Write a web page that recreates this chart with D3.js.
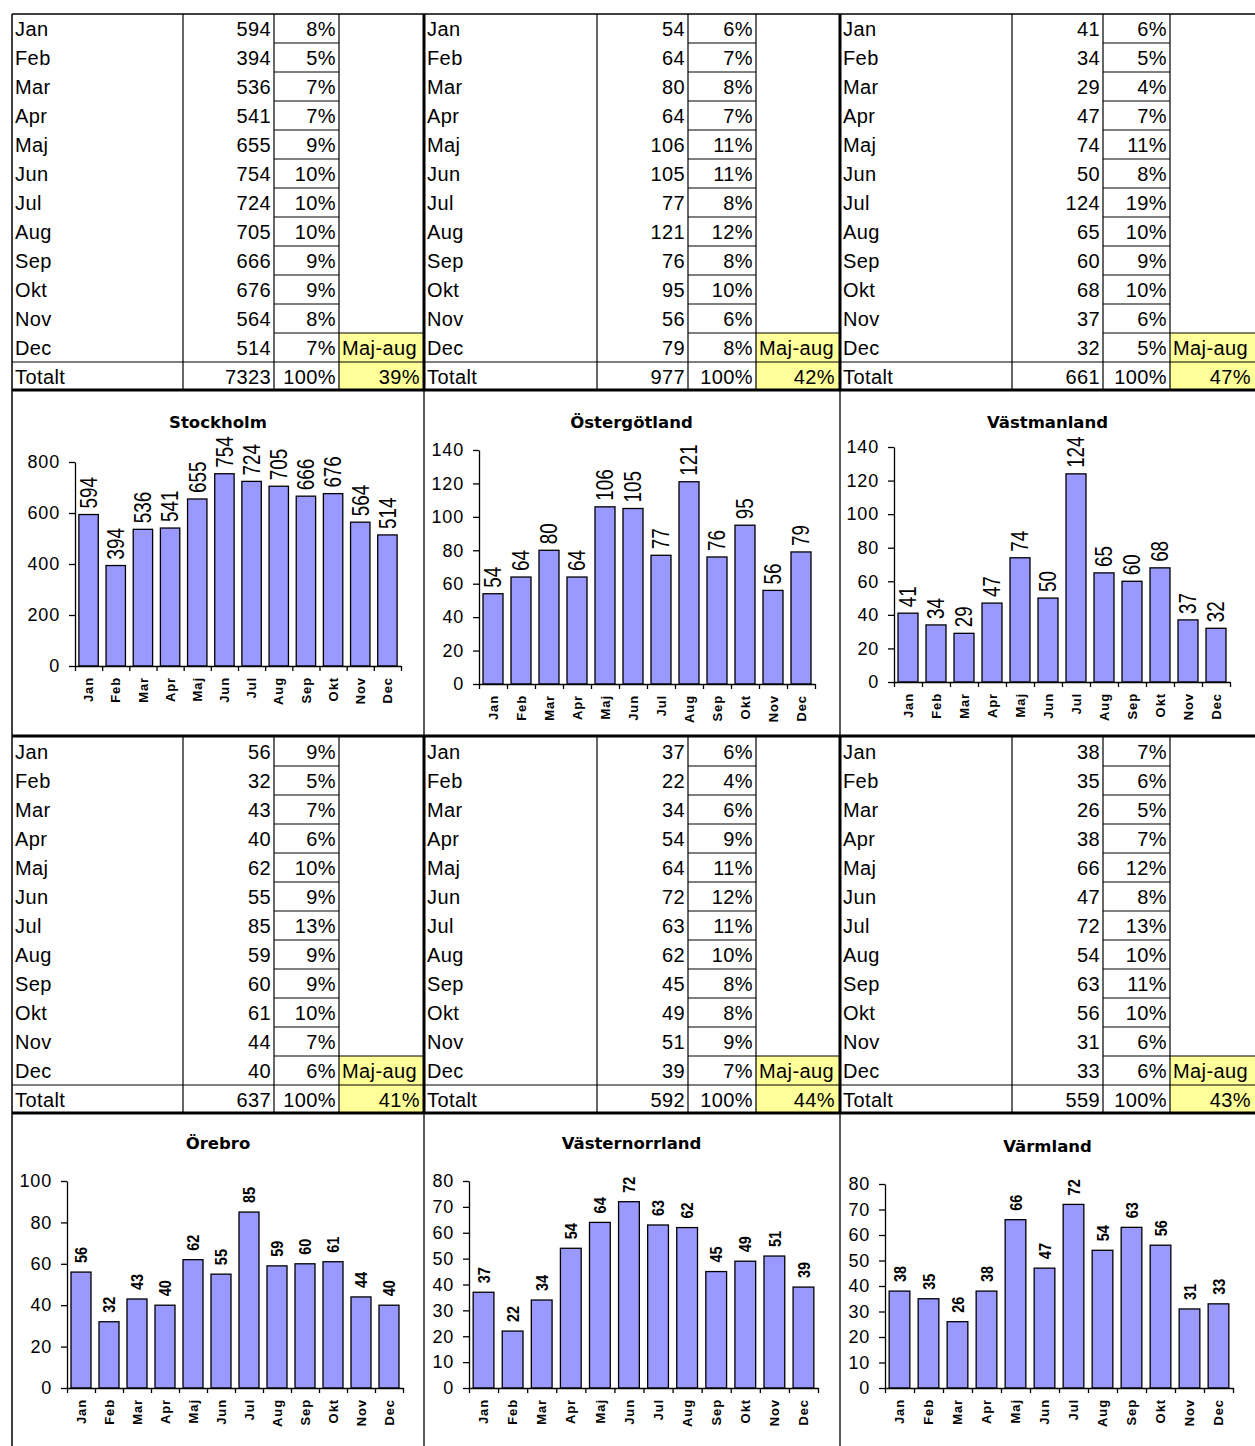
<!DOCTYPE html>
<html>
<head>
<meta charset="utf-8">
<script src="https://cdn.jsdelivr.net/npm/d3@7"></script>
<style>
  body { margin: 0; background: #fff; }
  svg { display: block; }
</style>
</head>
<body>
<script>
// ---- Data -------------------------------------------------------------
const months = ["Jan", "Feb", "Mar", "Apr", "Maj", "Jun", "Jul", "Aug", "Sep", "Okt", "Nov", "Dec"];
const regions = ["Stockholm", "Östergötland", "Västmanland", "Örebro", "Västernorrland", "Värmland"];

const stockholmValues      = [594, 394, 536, 541, 655, 754, 724, 705, 666, 676, 564, 514];
const ostergotlandValues   = [54, 64, 80, 64, 106, 105, 77, 121, 76, 95, 56, 79];
const vastmanlandValues    = [41, 34, 29, 47, 74, 50, 124, 65, 60, 68, 37, 32];
const orebroValues         = [56, 32, 43, 40, 62, 55, 85, 59, 60, 61, 44, 40];
const vasternorrlandValues = [37, 22, 34, 54, 64, 72, 63, 62, 45, 49, 51, 39];
const varmlandValues       = [38, 35, 26, 38, 66, 47, 72, 54, 63, 56, 31, 33];

const stockholmShares      = ["8%", "5%", "7%", "7%", "9%", "10%", "10%", "10%", "9%", "9%", "8%", "7%"];
const ostergotlandShares   = ["6%", "7%", "8%", "7%", "11%", "11%", "8%", "12%", "8%", "10%", "6%", "8%"];
const vastmanlandShares    = ["6%", "5%", "4%", "7%", "11%", "8%", "19%", "10%", "9%", "10%", "6%", "5%"];
const orebroShares         = ["9%", "5%", "7%", "6%", "10%", "9%", "13%", "9%", "9%", "10%", "7%", "6%"];
const vasternorrlandShares = ["6%", "4%", "6%", "9%", "11%", "12%", "11%", "10%", "8%", "8%", "9%", "7%"];
const varmlandShares       = ["7%", "6%", "5%", "7%", "12%", "8%", "13%", "10%", "11%", "10%", "6%", "6%"];

const totals = [7323, 977, 661, 637, 592, 559];
const summerShares = ["39%", "42%", "47%", "41%", "44%", "43%"];

const stockholmTicks      = [0, 200, 400, 600, 800];
const ostergotlandTicks   = [0, 20, 40, 60, 80, 100, 120, 140];
const vastmanlandTicks    = [0, 20, 40, 60, 80, 100, 120, 140];
const orebroTicks         = [0, 20, 40, 60, 80, 100];
const vasternorrlandTicks = [0, 10, 20, 30, 40, 50, 60, 70, 80];
const varmlandTicks       = [0, 10, 20, 30, 40, 50, 60, 70, 80];

const valuesByRegion = [stockholmValues, ostergotlandValues, vastmanlandValues, orebroValues, vasternorrlandValues, varmlandValues];
const sharesByRegion = [stockholmShares, ostergotlandShares, vastmanlandShares, orebroShares, vasternorrlandShares, varmlandShares];
const ticksByRegion  = [stockholmTicks, ostergotlandTicks, vastmanlandTicks, orebroTicks, vasternorrlandTicks, varmlandTicks];

// ---- Layout -----------------------------------------------------------
const W = 1255, H = 1446;
const rowH = 29;
const tableTops = [14, 737];
const blockCols = [
  { left: 12,  c1: 183,  c2: 274,  c3: 339,  right: 424 },
  { left: 424, c1: 597,  c2: 688,  c3: 756,  right: 839 },
  { left: 840, c1: 1012, c2: 1103, c3: 1170, right: 1255 }
];
const chartFrames = [
  { x0: 75,  x1: 401,  yTop: 462,  yBottom: 666,  titleY: 422 },
  { x0: 479, x1: 815,  yTop: 450,  yBottom: 684,  titleY: 422 },
  { x0: 894, x1: 1230, yTop: 447,  yBottom: 682,  titleY: 422 },
  { x0: 67,  x1: 403,  yTop: 1181, yBottom: 1388, titleY: 1143 },
  { x0: 469, x1: 818,  yTop: 1181, yBottom: 1388, titleY: 1143 },
  { x0: 885, x1: 1233, yTop: 1184, yBottom: 1388, titleY: 1146 }
];

const cellFont = "'Liberation Sans', Arial, sans-serif";
const titleFont = "'DejaVu Sans', Verdana, sans-serif";

const svg = d3.select("body").append("svg")
  .attr("width", W).attr("height", H)
  .attr("viewBox", `0 0 ${W} ${H}`);

const line = (g, x1, y1, x2, y2, w) =>
  g.append("line").attr("x1", x1).attr("y1", y1).attr("x2", x2).attr("y2", y2)
    .attr("stroke", "#000").attr("stroke-width", w);

// ---- Tables -----------------------------------------------------------
function drawTable(i) {
  const b = blockCols[i % 3];
  const top = tableTops[Math.floor(i / 3)];
  const bottom = top + rowH * 13;
  const g = svg.append("g").attr("class", "table");

  // yellow summary cells (Dec and Totalt rows, last column)
  g.append("rect").attr("x", b.c3).attr("y", top + rowH * 11)
    .attr("width", b.right - b.c3).attr("height", rowH * 2).attr("fill", "#FFFF99");

  // grid
  line(g, b.c1, top, b.c1, bottom, 1.2);
  line(g, b.c2, top, b.c2, bottom, 1.2);
  line(g, b.c3, top, b.c3, bottom, 1.2);
  for (let r = 1; r <= 11; r++) line(g, b.c2, top + r * rowH, b.c3, top + r * rowH, 1.2);
  line(g, b.c3, top + rowH * 11, b.right, top + rowH * 11, 1.2);
  line(g, b.left, top + rowH * 12, b.right, top + rowH * 12, 1.2);

  const txt = (x, r, s, anchor) =>
    g.append("text").attr("x", x).attr("y", top + r * rowH + 22)
      .attr("text-anchor", anchor).attr("font-family", cellFont)
      .attr("font-size", 20).attr("letter-spacing", 0.4).attr("fill", "#000").text(s);

  months.forEach((m, r) => {
    txt(b.left + 3, r, m, "start");
    txt(b.c2 - 3, r, valuesByRegion[i][r], "end");
    txt(b.c3 - 3, r, sharesByRegion[i][r], "end");
  });
  txt(b.c3 + 3, 11, "Maj-aug", "start");
  txt(b.left + 3, 12, "Totalt", "start");
  txt(b.c2 - 3, 12, totals[i], "end");
  txt(b.c3 - 3, 12, "100%", "end");
  txt(b.right - 4, 12, summerShares[i], "end");
}

// ---- Charts -----------------------------------------------------------
function drawChart(i) {
  const f = chartFrames[i];
  const b = blockCols[i % 3];
  const values = valuesByRegion[i];
  const ticks = ticksByRegion[i];
  const firstRow = i < 3;
  const g = svg.append("g").attr("class", "chart");

  const x = d3.scaleBand().domain(months).range([f.x0, f.x1])
    .paddingInner(0.286).paddingOuter(0.143);
  const y = d3.scaleLinear().domain([0, d3.max(ticks)]).range([f.yBottom, f.yTop]);
  const slots = d3.scaleLinear().domain([0, months.length]).range([f.x0, f.x1]);

  // title centred in its block
  g.append("text").attr("x", (b.left + b.right) / 2).attr("y", f.titleY).attr("dy", "0.36em")
    .attr("text-anchor", "middle").attr("font-family", titleFont)
    .attr("font-weight", "bold").attr("font-size", 16.5).text(regions[i]);

  g.selectAll("rect.bar").data(values).join("rect").attr("class", "bar")
    .attr("x", (d, k) => x(months[k]))
    .attr("y", d => y(d))
    .attr("width", x.bandwidth())
    .attr("height", d => y(0) - y(d))
    .attr("fill", "#9999FF").attr("stroke", "#000").attr("stroke-width", 1.3);

  // value axis
  const ya = g.append("g").attr("transform", `translate(${f.x0},0)`)
    .call(d3.axisLeft(y).tickValues(ticks).tickSize(6).tickSizeOuter(0).tickPadding(9));
  ya.select(".domain").attr("stroke-width", 1.3);
  ya.selectAll(".tick line").attr("stroke-width", 1.3);
  ya.selectAll(".tick text").attr("font-family", cellFont).attr("font-size", 18)
    .attr("letter-spacing", 0.8).attr("fill", "#000");

  // category axis with tick marks between categories
  const xa = g.append("g").attr("transform", `translate(0,${f.yBottom})`)
    .call(d3.axisBottom(slots).tickValues(d3.range(months.length + 1))
      .tickFormat("").tickSize(5).tickSizeOuter(0));
  xa.select(".domain").attr("stroke-width", 1.3);
  xa.selectAll(".tick line").attr("stroke-width", 1.3);

  g.selectAll("text.cat").data(months).join("text").attr("class", "cat")
    .attr("transform", m => `translate(${x(m) + x.bandwidth() / 2},${f.yBottom + 11}) rotate(-90)`)
    .attr("dy", "0.36em").attr("text-anchor", "end")
    .attr("font-family", cellFont).attr("font-weight", "bold").attr("font-size", 13)
    .attr("letter-spacing", 0.9).text(m => m);

  g.selectAll("text.val").data(values).join("text").attr("class", "val")
    .attr("transform", (d, k) => firstRow
      ? `translate(${x(months[k]) + x.bandwidth() / 2},${y(d) - 6}) rotate(-90) scale(0.82,1)`
      : `translate(${x(months[k]) + x.bandwidth() / 2},${y(d) - 9}) rotate(-90) scale(0.85,1)`)
    .attr("dy", "0.36em").attr("text-anchor", "start")
    .attr("font-family", cellFont)
    .attr("font-weight", firstRow ? "normal" : "bold")
    .attr("font-size", firstRow ? 23 : 17)
    .text(d => d);
}

d3.range(6).forEach(i => { drawTable(i); drawChart(i); });

// ---- Frame lines ------------------------------------------------------
const frame = svg.append("g").attr("class", "frame");
line(frame, 12, 14, W, 14, 1.5);
line(frame, 12, 14, 12, H, 1.5);
[390, 736, 1113].forEach(yy => line(frame, 12, yy, W, yy, 3));
[424, 840].forEach(xx => {
  line(frame, xx, 14, xx, 390, 3);
  line(frame, xx, 390, xx, 736, 1.3);
  line(frame, xx, 736, xx, 1113, 3);
  line(frame, xx, 1113, xx, H, 1.3);
});
</script>
</body>
</html>
